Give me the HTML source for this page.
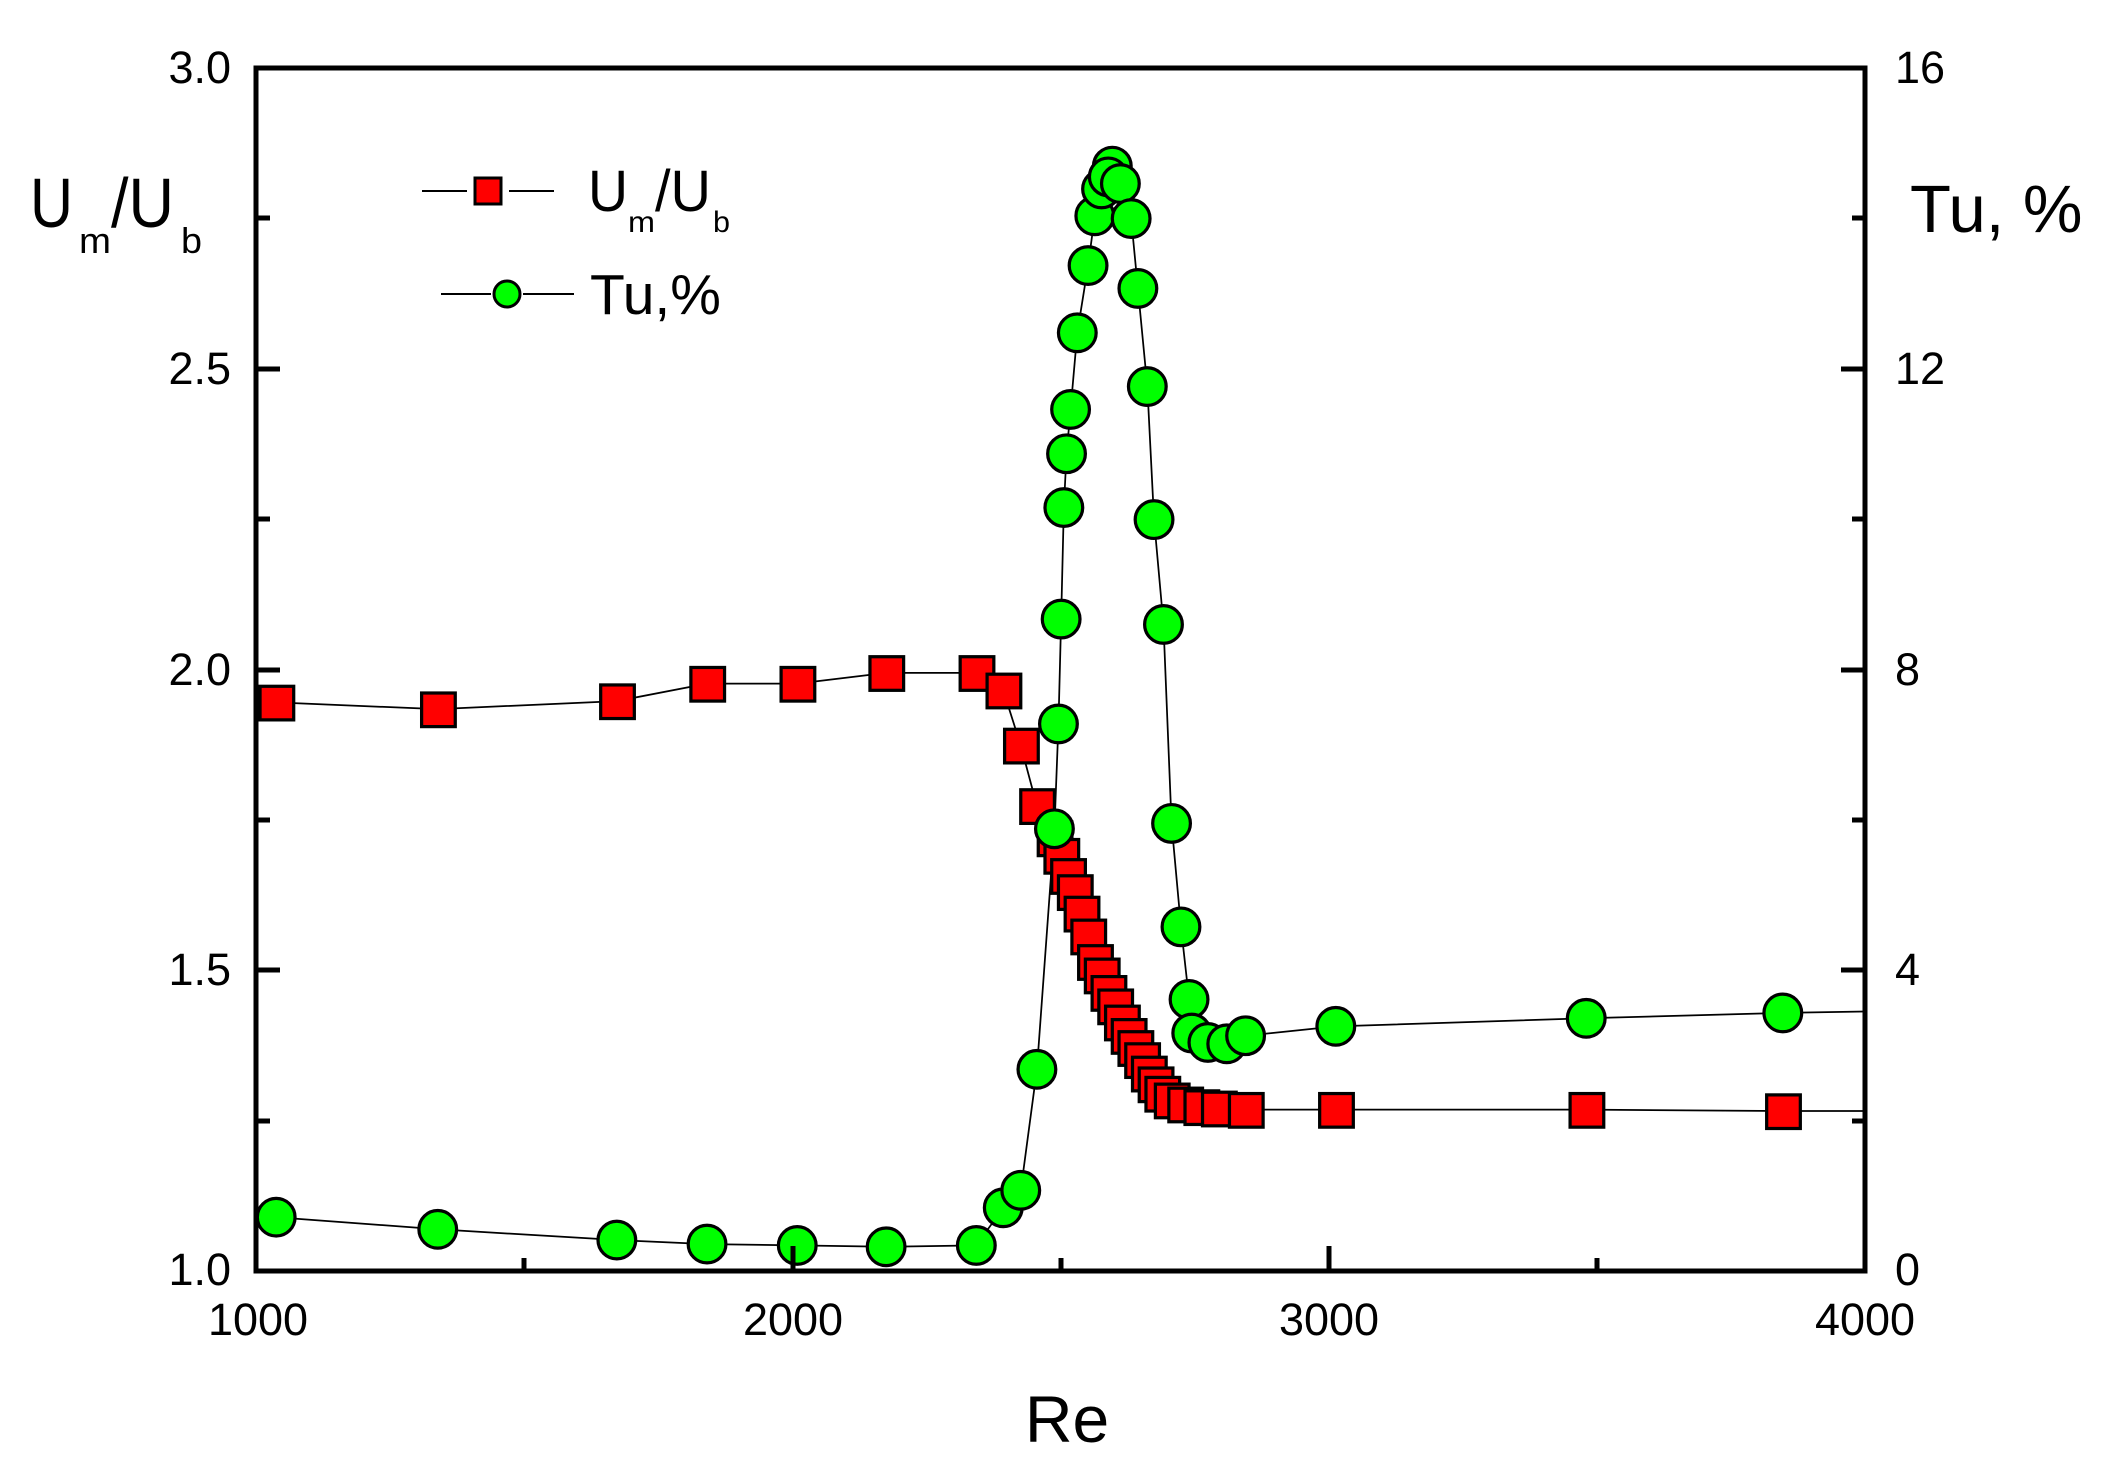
<!DOCTYPE html>
<html><head><meta charset="utf-8"><style>
html,body{margin:0;padding:0;background:#fff}
svg{display:block}
text{font-family:"Liberation Sans",Arial,sans-serif;fill:#000}
</style></head><body>
<svg width="2112" height="1469" viewBox="0 0 2112 1469" xmlns="http://www.w3.org/2000/svg">
<rect width="2112" height="1469" fill="#fff"/>
<!-- data group in view coords -->
<g transform="translate(256,68) scale(1.3464,1.3441) translate(-190,-47)">
<polyline fill="none" stroke="#000" stroke-width="1.3" points="205,519 325,524 458,518 525,505 592,505 658,497 725,497 745,510 758,551 770,596 783,620 788,633 793,648 798,660 803,676 808,693 813,712 818,722 823,735 828,745 833,757 838,767 843,776 848,785 853,795 858,803 863,810 870,815 880,818 892,820 905,821 925,822 992,822 1178,822 1324,823 1385,823"/>
<polyline fill="none" stroke="#000" stroke-width="1.3" points="205,902 325,911 458,919 525,922 592,923 658,924 725,923 745,895 758,882 770,792 783,613 786,535 788,457 790,374 792,334 795,301 800,244 808,194 813,157 818,137 823,126 826,120 832,133 840,159 845,211 852,284 857,383 864,461 870,609 877,686 883,740 885,765 895,772 910,773 925,767 992,760 1178,754 1324,750 1385,749"/>
<g fill="#ff0000" stroke="#000" stroke-width="2.4">
<rect x="193" y="507" width="25" height="25"/><rect x="313" y="512" width="25" height="25"/><rect x="446" y="506" width="25" height="25"/><rect x="513" y="493" width="25" height="25"/><rect x="580" y="493" width="25" height="25"/><rect x="646" y="485" width="25" height="25"/><rect x="713" y="485" width="25" height="25"/><rect x="733" y="498" width="25" height="25"/><rect x="746" y="539" width="25" height="25"/><rect x="758" y="584" width="25" height="25"/>
<rect x="771" y="608" width="25" height="25"/><rect x="776" y="621" width="25" height="25"/><rect x="781" y="636" width="25" height="25"/><rect x="786" y="648" width="25" height="25"/><rect x="791" y="664" width="25" height="25"/><rect x="796" y="681" width="25" height="25"/><rect x="801" y="700" width="25" height="25"/><rect x="806" y="710" width="25" height="25"/><rect x="811" y="723" width="25" height="25"/><rect x="816" y="733" width="25" height="25"/><rect x="821" y="745" width="25" height="25"/><rect x="826" y="755" width="25" height="25"/><rect x="831" y="764" width="25" height="25"/><rect x="836" y="773" width="25" height="25"/><rect x="841" y="783" width="25" height="25"/><rect x="846" y="791" width="25" height="25"/><rect x="851" y="798" width="25" height="25"/><rect x="858" y="803" width="25" height="25"/><rect x="868" y="806" width="25" height="25"/><rect x="880" y="808" width="25" height="25"/><rect x="893" y="809" width="25" height="25"/><rect x="913" y="810" width="25" height="25"/>
<rect x="980" y="810" width="25" height="25"/><rect x="1166" y="810" width="25" height="25"/><rect x="1312" y="811" width="25" height="25"/>
</g>
<g fill="#00ff00" stroke="#000" stroke-width="2.4">
<circle cx="205" cy="902" r="14"/><circle cx="325" cy="911" r="14"/><circle cx="458" cy="919" r="14"/><circle cx="525" cy="922" r="14"/><circle cx="592" cy="923" r="14"/><circle cx="658" cy="924" r="14"/><circle cx="725" cy="923" r="14"/><circle cx="745" cy="895" r="14"/><circle cx="758" cy="882" r="14"/><circle cx="770" cy="792" r="14"/><circle cx="783" cy="613" r="14"/><circle cx="786" cy="535" r="14"/><circle cx="788" cy="457" r="14"/><circle cx="790" cy="374" r="14"/><circle cx="792" cy="334" r="14"/><circle cx="795" cy="301" r="14"/><circle cx="800" cy="244" r="14"/><circle cx="808" cy="194" r="14"/><circle cx="813" cy="157" r="14"/><circle cx="818" cy="137" r="14"/><circle cx="826" cy="120" r="14"/><circle cx="823" cy="128" r="14"/><circle cx="832" cy="133" r="14"/><circle cx="840" cy="159" r="14"/><circle cx="845" cy="211" r="14"/><circle cx="852" cy="284" r="14"/><circle cx="857" cy="383" r="14"/><circle cx="864" cy="461" r="14"/><circle cx="870" cy="609" r="14"/><circle cx="877" cy="686" r="14"/><circle cx="883" cy="740" r="14"/><circle cx="885" cy="765" r="14"/><circle cx="897" cy="772" r="14"/><circle cx="911" cy="773" r="14"/><circle cx="925" cy="767" r="14"/><circle cx="992" cy="760" r="14"/><circle cx="1178" cy="754" r="14"/><circle cx="1324" cy="750" r="14"/>
</g>
</g>
<!-- axes -->
<rect x="256" y="68" width="1609" height="1203" fill="none" stroke="#000" stroke-width="5"/>
<g stroke="#000" stroke-width="5">
<!-- left ticks -->
<line x1="256" y1="68" x2="280" y2="68"/><line x1="256" y1="218" x2="270" y2="218"/><line x1="256" y1="369" x2="280" y2="369"/><line x1="256" y1="519" x2="270" y2="519"/><line x1="256" y1="670" x2="280" y2="670"/><line x1="256" y1="820" x2="270" y2="820"/><line x1="256" y1="970" x2="280" y2="970"/><line x1="256" y1="1121" x2="270" y2="1121"/>
<!-- right ticks -->
<line x1="1865" y1="218" x2="1852" y2="218"/><line x1="1865" y1="369" x2="1841" y2="369"/><line x1="1865" y1="519" x2="1852" y2="519"/><line x1="1865" y1="670" x2="1841" y2="670"/><line x1="1865" y1="820" x2="1852" y2="820"/><line x1="1865" y1="970" x2="1841" y2="970"/><line x1="1865" y1="1121" x2="1852" y2="1121"/>
<!-- bottom ticks -->
<line x1="524" y1="1271" x2="524" y2="1258"/><line x1="793" y1="1271" x2="793" y2="1246"/><line x1="1061" y1="1271" x2="1061" y2="1258"/><line x1="1329" y1="1271" x2="1329" y2="1246"/><line x1="1597" y1="1271" x2="1597" y2="1258"/>
</g>
<g font-size="45" text-anchor="end">
<text x="231" y="83">3.0</text><text x="231" y="384">2.5</text><text x="231" y="685">2.0</text><text x="231" y="985">1.5</text><text x="231" y="1285">1.0</text>
</g>
<g font-size="45" text-anchor="middle">
<text x="258" y="1335">1000</text><text x="793" y="1335">2000</text><text x="1329" y="1335">3000</text><text x="1865" y="1335">4000</text>
</g>
<g font-size="45">
<text x="1895" y="83">16</text><text x="1895" y="384">12</text><text x="1895" y="685">8</text><text x="1895" y="985">4</text><text x="1895" y="1285">0</text>
</g>
<text x="1067" y="1442" font-size="66" text-anchor="middle">Re</text>
<text x="1910" y="232" font-size="67">Tu, %</text>
<!-- left title -->
<text x="30" y="227" font-size="70" textLength="43" lengthAdjust="spacingAndGlyphs">U</text>
<text x="79" y="253" font-size="36" textLength="32" lengthAdjust="spacingAndGlyphs">m</text>
<text x="111" y="227" font-size="70" textLength="63" lengthAdjust="spacingAndGlyphs">/U</text>
<text x="181" y="253" font-size="36" textLength="21" lengthAdjust="spacingAndGlyphs">b</text>
<!-- legend -->
<line x1="422" y1="191" x2="467" y2="191" stroke="#000" stroke-width="2"/>
<line x1="509" y1="191" x2="554" y2="191" stroke="#000" stroke-width="2"/>
<rect x="475" y="178" width="26" height="26" fill="#ff0000" stroke="#000" stroke-width="3"/>
<text x="588" y="211" font-size="58" textLength="40" lengthAdjust="spacingAndGlyphs">U</text>
<text x="628" y="232" font-size="30" textLength="27" lengthAdjust="spacingAndGlyphs">m</text>
<text x="655" y="211" font-size="58" textLength="56" lengthAdjust="spacingAndGlyphs">/U</text>
<text x="713" y="232" font-size="30" textLength="17" lengthAdjust="spacingAndGlyphs">b</text>
<line x1="441" y1="294" x2="491" y2="294" stroke="#000" stroke-width="2"/>
<line x1="523" y1="294" x2="574" y2="294" stroke="#000" stroke-width="2"/>
<circle cx="507" cy="294" r="13" fill="#00ff00" stroke="#000" stroke-width="3"/>
<text x="590" y="314" font-size="57">Tu,%</text>
</svg>
</body></html>
